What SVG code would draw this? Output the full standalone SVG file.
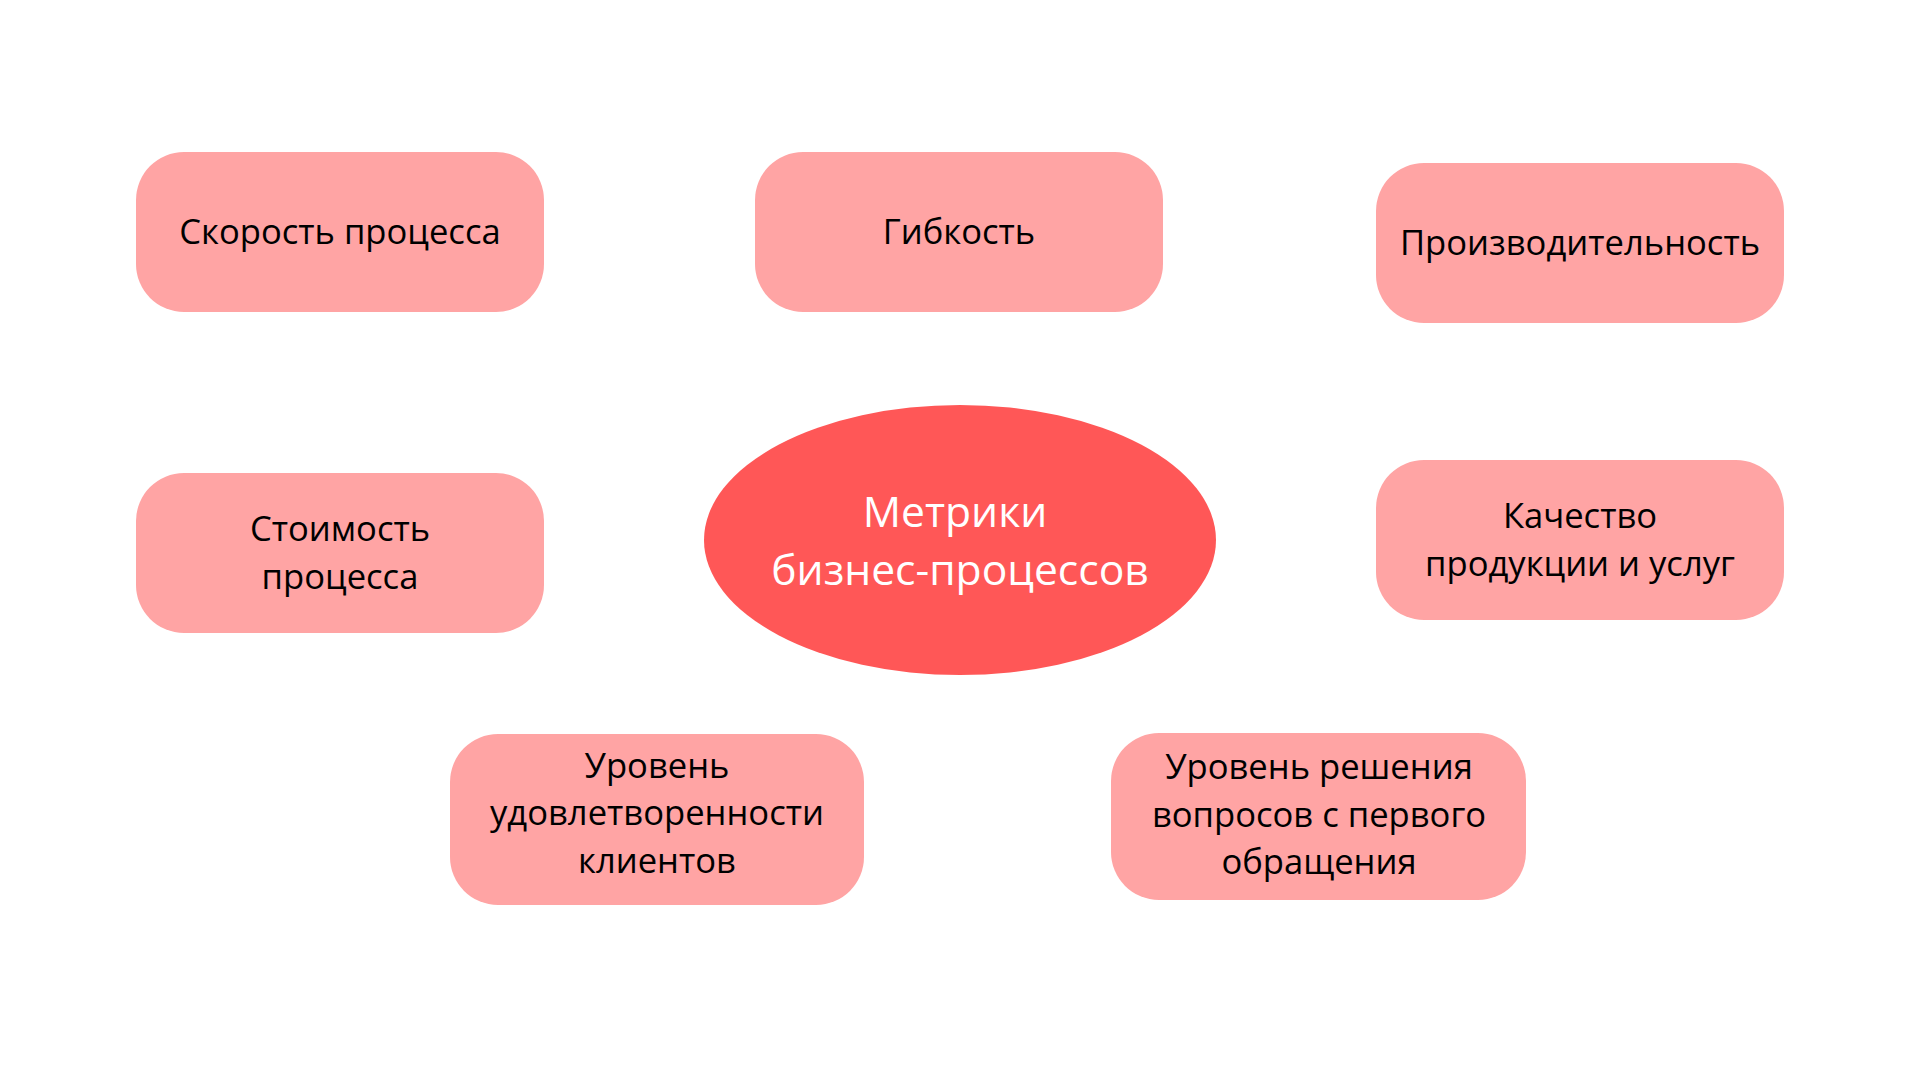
<svg xmlns="http://www.w3.org/2000/svg" width="1920" height="1080" viewBox="0 0 1920 1080">
<style>
.box{fill:#FFA4A4}
.t{font-family:"Open Sans","Noto Sans","DejaVu Sans",sans-serif;font-size:34.6px;fill:#000;text-anchor:middle}
.c{font-family:"Open Sans","Noto Sans","DejaVu Sans",sans-serif;font-size:42.6px;fill:#fff;text-anchor:middle}
</style>
<rect width="1920" height="1080" fill="#fff"/>
<g id="connectors"></g>
<g id="center">
<ellipse cx="960" cy="540" rx="256" ry="135" fill="#FF5757"/>
<text class="c" x="955" y="527">Метрики</text>
<text class="c" x="960" y="585">бизнес-процессов</text>
</g>
<g id="speed">
<rect class="box" x="136" y="152" width="408" height="160" rx="48" ry="48"/>
<text class="t" x="340" y="244">Скорость процесса</text>
</g>
<g id="flex">
<rect class="box" x="755" y="152" width="408" height="160" rx="48" ry="48"/>
<text class="t" x="959" y="244">Гибкость</text>
</g>
<g id="productivity">
<rect class="box" x="1376" y="163" width="408" height="160" rx="48" ry="48"/>
<text class="t" x="1580" y="255">Производительность</text>
</g>
<g id="cost">
<rect class="box" x="136" y="473" width="408" height="160" rx="48" ry="48"/>
<text class="t" x="340" y="541">Стоимость</text>
<text class="t" x="340" y="589">процесса</text>
</g>
<g id="quality">
<rect class="box" x="1376" y="460" width="408" height="160" rx="48" ry="48"/>
<text class="t" x="1580" y="528">Качество</text>
<text class="t" x="1580" y="576">продукции и услуг</text>
</g>
<g id="satisfaction">
<rect class="box" x="450" y="734" width="414" height="171" rx="48" ry="48"/>
<text class="t" x="657" y="778">Уровень</text>
<text class="t" x="657" y="825">удовлетворенности</text>
<text class="t" x="657" y="873">клиентов</text>
</g>
<g id="fcr">
<rect class="box" x="1111" y="733" width="415" height="167" rx="48" ry="48"/>
<text class="t" x="1319" y="779">Уровень решения</text>
<text class="t" x="1319" y="827">вопросов с первого</text>
<text class="t" x="1319" y="874">обращения</text>
</g>
</svg>
